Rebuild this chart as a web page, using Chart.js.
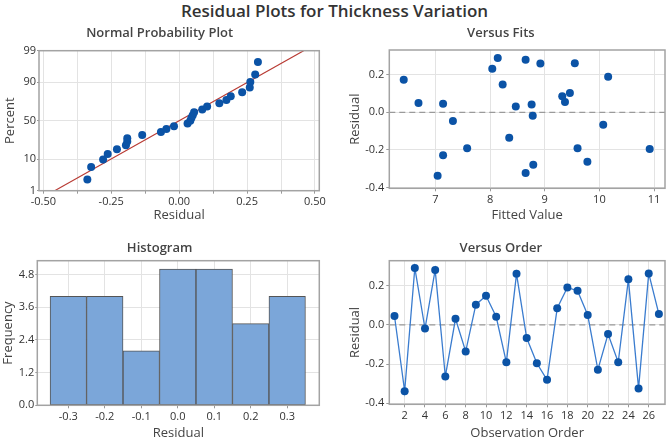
<!DOCTYPE html>
<html><head><meta charset="utf-8">
<script src="https://cdn.jsdelivr.net/npm/chart.js@4.4.1/dist/chart.umd.min.js"></script>
<style>
html,body{margin:0;padding:0;background:#fff;}
#wrap{position:relative;width:669px;height:440px;overflow:hidden;background:#fff;}
#main{position:absolute;left:0;top:0;width:669px;text-align:center;font-family:"Open Sans";font-weight:600;font-size:17px;color:#333;line-height:22px;}
canvas{position:absolute;}
</style></head><body>
<div id="wrap">
<div id="main">Residual Plots for Thickness Variation</div>
<canvas id="c1" width="335" height="204" style="left:0;top:22px"></canvas>
<canvas id="c2" width="334" height="204" style="left:335px;top:22px"></canvas>
<canvas id="c3" width="335" height="216" style="left:0;top:226px"></canvas>
<canvas id="c4" width="334" height="216" style="left:335px;top:226px"></canvas>
</div>
<script>
// ---------------- data ----------------
const obsOrder = [1,2,3,4,5,6,7,8,9,10,11,12,13,14,15,16,17,18,19,20,21,22,23,24,25,26,27];
const residuals = [0.045,-0.338,0.290,-0.019,0.280,-0.263,0.031,-0.136,0.103,0.148,0.041,-0.191,0.260,-0.067,-0.196,-0.280,0.085,0.190,0.174,0.050,-0.229,-0.047,-0.191,0.232,-0.324,0.262,0.055];
const fittedValues = [7.14,7.04,8.14,8.78,8.65,9.78,8.47,8.35,9.46,8.23,8.76,7.58,8.92,10.07,10.92,8.79,9.32,10.16,6.42,6.69,7.14,7.32,9.60,8.04,8.65,9.55,9.37];
const npResidual = [-0.338,-0.324,-0.280,-0.263,-0.229,-0.196,-0.191,-0.191,-0.136,-0.067,-0.047,-0.019,0.031,0.041,0.045,0.050,0.055,0.085,0.103,0.148,0.174,0.190,0.232,0.260,0.262,0.280,0.290];
const npPercent = [2.55,6.20,9.85,13.50,17.15,20.80,24.45,28.10,31.75,35.40,39.05,42.70,46.35,50.00,53.65,57.30,60.95,64.60,68.25,71.90,75.55,79.20,82.85,86.50,90.15,93.80,97.45];
const fitMean = 0.0;
const fitSd = 0.197;
const histMid = [-0.3,-0.2,-0.1,0.0,0.1,0.2,0.3];
const histFreq = [4,4,2,5,5,3,4];
// tick labels
const npXTicks = [-0.5,-0.375,-0.25,-0.125,0,0.125,0.25,0.375,0.5];
const npXLabels = ['-0.50','','-0.25','','0.00','','0.25','','0.50'];
const npPctTicks = [1,10,50,90,99];
const fitsXTicks = [7,8,9,10,11];
const residTicks = [-0.4,-0.2,0,0.2];
const residLabels = ['-0.4','-0.2','0.0','0.2'];
const histXTicks = [-0.3,-0.2,-0.1,0,0.1,0.2,0.3];
const histXLabels = ['-0.3','-0.2','-0.1','0.0','0.1','0.2','0.3'];
const histYTicks = [0,1.2,2.4,3.6,4.8];
const histYLabels = ['0.0','1.2','2.4','3.6','4.8'];
const orderTicks = [2,4,6,8,10,12,14,16,18,20,22,24,26];

// ---------------- helpers ----------------
function probit(p){
  const a=[-3.969683028665376e+01,2.209460984245205e+02,-2.759285104469687e+02,1.383577518672690e+02,-3.066479806614716e+01,2.506628277459239e+00];
  const b=[-5.447609879822406e+01,1.615858368580409e+02,-1.556989798598866e+02,6.680131188771972e+01,-1.328068155288572e+01];
  const c=[-7.784894002430293e-03,-3.223964580411365e-01,-2.400758277161838e+00,-2.549732539343734e+00,4.374664141464968e+00,2.938163982698783e+00];
  const d=[7.784695709041462e-03,3.224671290700398e-01,2.445134137142996e+00,3.754408661907416e+00];
  const pl=0.02425, ph=1-pl; let q,r;
  if(p<pl){q=Math.sqrt(-2*Math.log(p));return (((((c[0]*q+c[1])*q+c[2])*q+c[3])*q+c[4])*q+c[5])/((((d[0]*q+d[1])*q+d[2])*q+d[3])*q+1);}
  if(p<=ph){q=p-0.5;r=q*q;return (((((a[0]*r+a[1])*r+a[2])*r+a[3])*r+a[4])*r+a[5])*q/(((((b[0]*r+b[1])*r+b[2])*r+b[3])*r+b[4])*r+1);}
  q=Math.sqrt(-2*Math.log(1-p));return -(((((c[0]*q+c[1])*q+c[2])*q+c[3])*q+c[4])*q+c[5])/((((d[0]*q+d[1])*q+d[2])*q+d[3])*q+1);
}
const FONT = '"Open Sans"';
const TICKC = '#333';
const TITLEC = '#444';
const GRIDC = '#e3e3e3';
const PTC = '#0b53a6';

const frame = {id:'frame', afterDraw(c){const a=c.chartArea,x=c.ctx;x.save();x.strokeStyle='#a3a3a3';x.lineWidth=1.5;x.strokeRect(a.left,a.top,a.right-a.left,a.bottom-a.top);x.restore();}};
const refLine = {id:'refLine', beforeDatasetsDraw(c,args,opts){ if(opts.value===undefined) return; const a=c.chartArea,x=c.ctx; const y=c.scales.y.getPixelForValue(opts.value); x.save(); x.strokeStyle='#9a9a9a'; x.lineWidth=1.2; x.setLineDash([6,4]); x.beginPath(); x.moveTo(a.left,y); x.lineTo(a.right,y); x.stroke(); x.restore(); }};

function setTicks(vals){ return s => { s.ticks = vals.map(v=>({value:v})); }; }
function tickFont(){ return {family:FONT,size:11}; }
function axTitle(text, pad){ return {display:true,text:text,color:TITLEC,font:{family:FONT,size:13},padding:pad}; }
function panelTitle(text, pt, pb){ return {display:true,text:text,color:TITLEC,font:{family:FONT,size:13,weight:'600'},padding:{top:pt,bottom:pb}}; }

function baseOpts(o){
  return {
    responsive:false, animation:false, devicePixelRatio:1,
    layout:{padding:o.padding},
    plugins:{legend:{display:false}, tooltip:{enabled:false}, title:o.title, refLine:o.refLine||{}},
    scales:o.scales
  };
}

// ---------------- Chart 1: Normal probability plot ----------------
const npYTickVals = npPctTicks.map(p=>probit(p/100));
new Chart(document.getElementById('c1'), {
  type:'scatter',
  data:{datasets:[
    {data:npResidual.map((r,i)=>({x:r,y:probit(npPercent[i]/100)})), pointRadius:4, pointBackgroundColor:PTC, pointBorderWidth:0, order:1},
    {data:[1,99].map(p=>({x:fitMean+fitSd*probit(p/100), y:probit(p/100)})), showLine:true, borderColor:'#b83a33', borderWidth:1.2, pointRadius:0, order:2}
  ]},
  options:baseOpts({
    padding:{left:0,right:15.7,top:0,bottom:0},
    title:panelTitle('Normal Probability Plot',3.5,9.6),
    scales:{
      x:{type:'linear',min:-0.516,max:0.516,afterBuildTicks:setTicks(npXTicks),afterFit:s=>{s.height=35.3;},
         grid:{color:GRIDC,tickLength:3,tickColor:'#999'},border:{display:false},
         ticks:{color:TICKC,font:tickFont(),padding:2,maxRotation:0,autoSkip:false,callback:(v,i)=>npXLabels[i]},
         title:axTitle('Residual',{top:0,bottom:2.7})},
      y:{type:'linear',min:probit(0.01),max:probit(0.99),afterBuildTicks:setTicks(npYTickVals),afterFit:s=>{s.width=39;},
         grid:{color:GRIDC,tickLength:2,tickColor:'#999'},border:{display:false},
         ticks:{color:TICKC,font:tickFont(),padding:1,autoSkip:false,callback:(v,i)=>String(npPctTicks[i])},
         title:axTitle('Percent',{top:2.3,bottom:0})}
    }
  }),
  plugins:[frame]
});

// ---------------- Chart 2: Versus fits ----------------
new Chart(document.getElementById('c2'), {
  type:'scatter',
  data:{datasets:[
    {data:fittedValues.map((f,i)=>({x:f,y:residuals[i]})), pointRadius:4, pointBackgroundColor:PTC, pointBorderWidth:0}
  ]},
  options:baseOpts({
    padding:{left:0,right:2.3,top:0,bottom:0},
    title:panelTitle('Versus Fits',3.5,8.9),
    refLine:{value:0},
    scales:{
      x:{type:'linear',min:6.156,max:11.2,afterBuildTicks:setTicks(fitsXTicks),afterFit:s=>{s.height=37.7;},
         grid:{color:GRIDC,tickLength:3,tickColor:'#999'},border:{display:false},
         ticks:{color:TICKC,font:tickFont(),padding:2,maxRotation:0,autoSkip:false,callback:(v,i)=>String(fitsXTicks[i])},
         title:axTitle('Fitted Value',{top:0,bottom:2.7})},
      y:{type:'linear',min:-0.405,max:0.332,afterBuildTicks:setTicks(residTicks),afterFit:s=>{s.width=54.3;},
         grid:{color:GRIDC,tickLength:3,tickColor:'#999'},border:{display:false},
         ticks:{color:TICKC,font:tickFont(),padding:2,autoSkip:false,callback:(v,i)=>residLabels[i]},
         title:axTitle('Residual',{top:12,bottom:0})}
    }
  }),
  plugins:[frame, refLine]
});

// ---------------- Chart 3: Histogram ----------------
new Chart(document.getElementById('c3'), {
  type:'bar',
  data:{datasets:[
    {data:histMid.map((m,i)=>({x:m,y:histFreq[i]})), backgroundColor:'#7ba6d9', borderColor:'#555', borderWidth:1, barPercentage:1, categoryPercentage:1, borderSkipped:false}
  ]},
  options:baseOpts({
    padding:{left:0,right:15.7,top:0,bottom:0},
    title:panelTitle('Histogram',14.2,4.9),
    scales:{
      x:{type:'linear',offset:false,min:-0.385,max:0.388,afterBuildTicks:setTicks(histXTicks),afterFit:s=>{s.height=36.7;},
         grid:{color:GRIDC,offset:false,tickLength:3,tickColor:'#999'},border:{display:false},
         ticks:{color:TICKC,font:tickFont(),padding:2,maxRotation:0,autoSkip:false,callback:(v,i)=>histXLabels[i]},
         title:axTitle('Residual',{top:0,bottom:1.4})},
      y:{type:'linear',min:0,max:5.31,afterBuildTicks:setTicks(histYTicks),afterFit:s=>{s.width=37.3;},
         grid:{color:GRIDC,tickLength:2,tickColor:'#999'},border:{display:false},
         ticks:{color:TICKC,font:tickFont(),padding:1,autoSkip:false,callback:(v,i)=>histYLabels[i]},
         title:axTitle('Frequency',{top:0,bottom:0})}
    }
  }),
  plugins:[frame]
});

// ---------------- Chart 4: Versus order ----------------
new Chart(document.getElementById('c4'), {
  type:'scatter',
  data:{datasets:[
    {data:obsOrder.map((o,i)=>({x:o,y:residuals[i]})), showLine:true, borderColor:'#3a7ccf', borderWidth:1.3, pointRadius:4, pointBackgroundColor:PTC, pointBorderWidth:0}
  ]},
  options:baseOpts({
    padding:{left:0,right:2.3,top:0,bottom:0},
    title:panelTitle('Versus Order',14.2,4.9),
    refLine:{value:0},
    scales:{
      x:{type:'linear',min:0.49,max:27.6,afterBuildTicks:setTicks(orderTicks),afterFit:s=>{s.height=37.7;},
         grid:{color:GRIDC,tickLength:3,tickColor:'#999'},border:{display:false},
         ticks:{color:TICKC,font:tickFont(),padding:2,maxRotation:0,autoSkip:false,callback:(v,i)=>String(orderTicks[i])},
         title:axTitle('Observation Order',{top:0,bottom:1.4})},
      y:{type:'linear',min:-0.405,max:0.327,afterBuildTicks:setTicks(residTicks),afterFit:s=>{s.width=54.3;},
         grid:{color:GRIDC,tickLength:3,tickColor:'#999'},border:{display:false},
         ticks:{color:TICKC,font:tickFont(),padding:2,autoSkip:false,callback:(v,i)=>residLabels[i]},
         title:axTitle('Residual',{top:12.8,bottom:0})}
    }
  }),
  plugins:[frame, refLine]
});
</script>
</body></html>
